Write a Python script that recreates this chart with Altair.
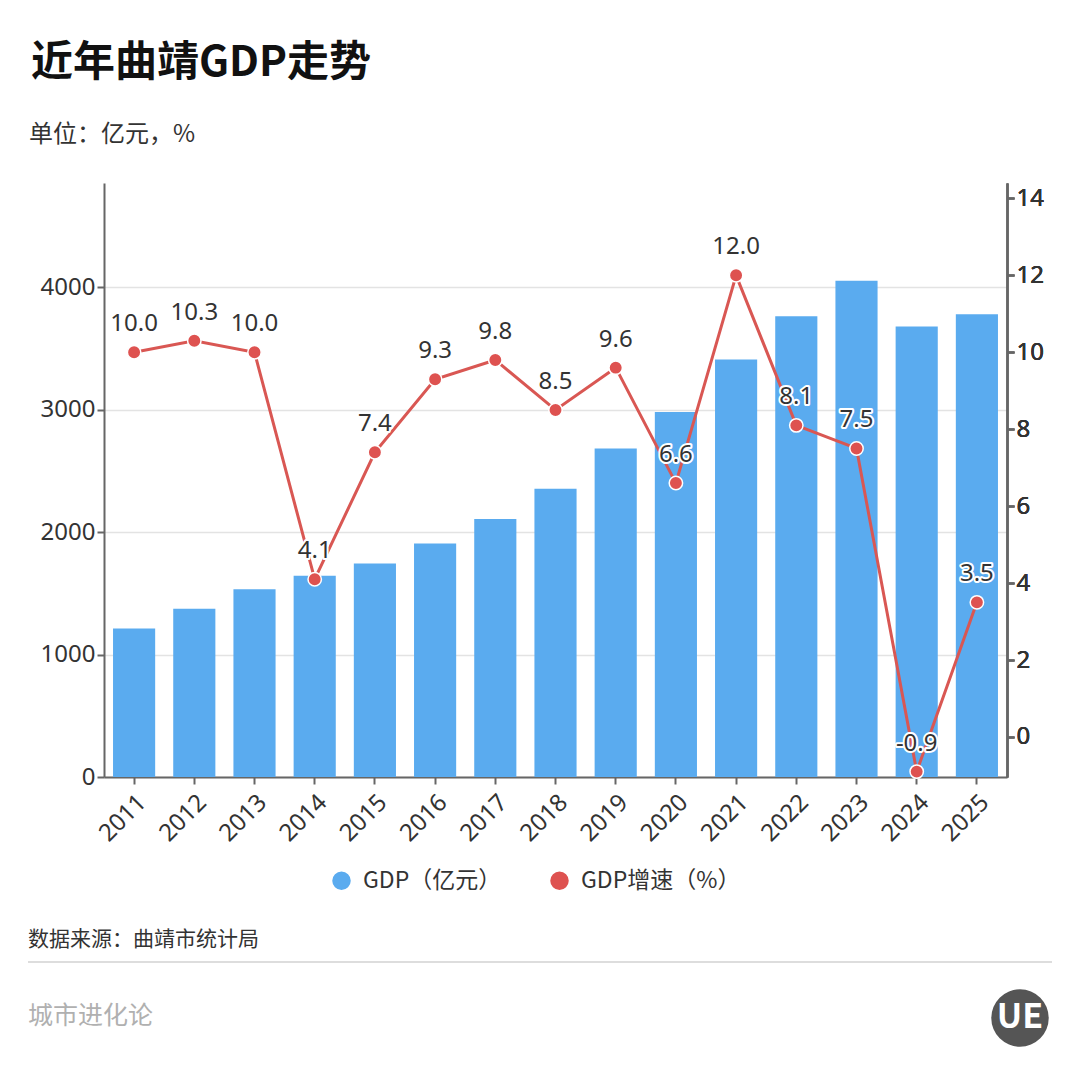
import altair as alt
import pandas as pd

# Qujing GDP, 2011-2025
years = [str(y) for y in range(2011, 2026)]
gdp = [1212, 1373, 1533, 1643, 1743, 1906, 2106, 2353, 2682, 2980, 3409, 3762, 4052, 3679, 3779]
growth = [10.0, 10.3, 10.0, 4.1, 7.4, 9.3, 9.8, 8.5, 9.6, 6.6, 12.0, 8.1, 7.5, -0.9, 3.5]

series_names = ["GDP（亿元）", "GDP增速（%）"]
series_colors = ["#5aabef", "#de5250"]

FONT = "'Noto Sans', 'Noto Sans CJK SC', sans-serif"
CJK = "Noto Sans CJK SC"
W, H = 903, 594

df = pd.DataFrame({"year": years, "gdp": gdp, "growth": growth})
df["label"] = [f"{v:.1f}" for v in growth]

color_scale = alt.Scale(domain=series_names, range=series_colors)
legend = alt.Legend(
    title=None,
    orient="none",
    direction="horizontal",
    legendX=226,
    legendY=686,
    symbolType="circle",
    symbolSize=400,
    labelFontSize=23,
    labelColor="#333",
    labelFont=CJK,
    labelOffset=10,
    labelLimit=300,
    columnPadding=44,
)

x_enc = alt.X(
    "year:N",
    title=None,
    scale=alt.Scale(paddingInner=0.3, paddingOuter=0.15),
    axis=alt.Axis(labelAngle=-45, labelFontSize=24, labelPadding=6),
)

base = alt.Chart(df)

bars = base.mark_bar().encode(
    x=x_enc,
    y=alt.Y(
        "gdp:Q",
        title=None,
        scale=alt.Scale(domain=[0, 4850], nice=False),
        axis=alt.Axis(values=[0, 1000, 2000, 3000, 4000], grid=True, orient="left", format="d"),
    ),
    color=alt.Color("s:N", scale=color_scale, legend=legend),
).transform_calculate(s="'GDP（亿元）'")

y_right = alt.Y(
    "growth:Q",
    title=None,
    scale=alt.Scale(domain=[-1.04, 14.4], nice=False, zero=False),
    axis=alt.Axis(values=list(range(0, 15, 2)), grid=False, orient="right"),
)

line = base.mark_line(color="#d95753", strokeWidth=3).encode(x=x_enc, y=y_right)

points = (
    base.mark_circle(size=180, opacity=1, stroke="white", strokeWidth=1.5)
    .encode(x=x_enc, y=y_right, color=alt.Color("s:N", scale=color_scale, legend=legend))
    .transform_calculate(s="'GDP增速（%）'")
)

halo = base.mark_text(
    font=FONT, fontSize=24, dy=-28, stroke="white", strokeWidth=4, strokeJoin="round", fill="white"
).encode(x=x_enc, y=y_right, text="label:N")

labels = base.mark_text(font=FONT, fontSize=24, dy=-28, color="#333").encode(
    x=x_enc, y=y_right, text="label:N"
)

one = alt.Data(values=[{"k": 0}])


def note(txt, x, y, size, color="#333", weight="normal"):
    return (
        alt.Chart(one)
        .mark_text(text=txt, align="left", baseline="middle", font=CJK, fontSize=size,
                   color=color, fontWeight=weight)
        .encode(x=alt.value(x), y=alt.value(y))
    )


title = note("近年曲靖GDP走势", -73, -120, 42, "#111", "bold")
subtitle = note("单位：亿元，%", -75, -48, 24)
source = note("数据来源：曲靖市统计局", -76, 757, 21)
footer = note("城市进化论", -76, 833, 25, "#b0b0b0")

divider = (
    alt.Chart(one)
    .mark_rule(color="#dddddd", strokeWidth=2)
    .encode(x=alt.value(-76), x2=alt.value(948), y=alt.value(779))
)

logo = (
    alt.Chart(one)
    .mark_circle(size=3300, color="#555555", opacity=1)
    .encode(x=alt.value(916), y=alt.value(835))
)
logo_text = (
    alt.Chart(one)
    .mark_text(text="UE", font=CJK, fontSize=34, fontWeight="bold", color="white")
    .encode(x=alt.value(916), y=alt.value(835))
)

chart = (
    alt.layer(bars, line, points, halo, labels, title, subtitle, source, divider, footer, logo, logo_text)
    .resolve_scale(y="independent")
    .properties(
        width=W,
        height=H,
        autosize=alt.AutoSizeParams(type="none"),
        padding={"left": 96, "top": 175, "right": 65, "bottom": 295},
        background="white",
    )
    .configure_view(stroke=None)
    .configure_axis(
        labelFont=FONT,
        labelFontSize=24,
        labelColor="#333",
        domainColor="#666",
        domainWidth=2,
        tickColor="#666",
        tickWidth=2,
        tickSize=7,
        gridColor="#e3e3e3",
        gridWidth=1.5,
    )
)

chart.save("out.html", embed_options={"renderer": "svg", "actions": False})
